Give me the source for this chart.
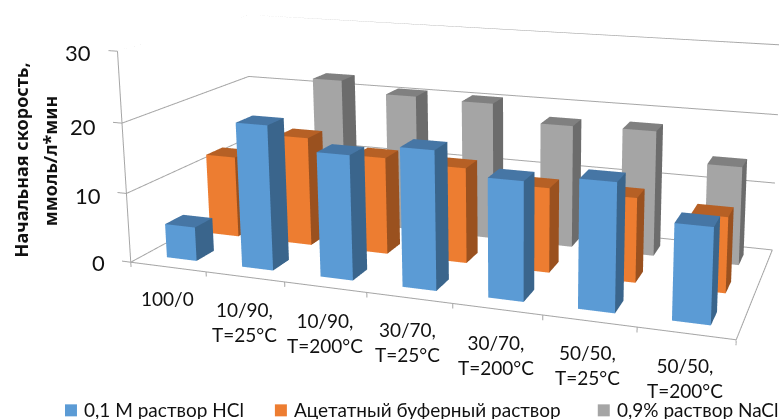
import numpy as np, plotly.graph_objects as go

W, H = 779, 419
categories = ["100/0", "10/90,<br>T=25°C", "10/90,<br>T=200°C", "30/70,<br>T=25°C",
              "30/70,<br>T=200°C", "50/50,<br>T=25°C", "50/50,<br>T=200°C"]
series_names = ["0,1 М раствор HCl", "Ацетатный буферный раствор", "0,9% раствор NaCl"]
hcl = [4.9, 20.5, 17.4, 19.1, 16.1, 17.1, 12.6]
acetate = [12.1, 16.0, 14.1, 13.7, 12.0, 11.8, 10.4]
nacl = [0, 22.2, 20.6, 20.4, 18.0, 18.2, 14.1]
series = [hcl, acetate, nacl]
y_ticks = [0, 10, 20, 30]
shades = [("#5B9BD5", "#3A658C", "#4676A5"), ("#ED7D31", "#9A511F", "#B66025"), ("#A5A5A5", "#6C6C6C", "#808080")]
GRID = "#A6A6A6"
FONT = "Lato, 'Open Sans', sans-serif"
TITLE_FONT = "'Noto Sans', 'Open Sans', sans-serif"

# camera matched to the reference perspective (Excel's view angle is narrow, so the scene is larger than the window)
eye = np.array([0.7343, -1.871, 0.5417]); cen = np.array([0.0937, 0.0676, 0.1359]); up = [-0.062, 0.1848, 0.9808]
ax, ay, az = 1.0, 0.397, 0.355
PPX, PPY, FOCAL = 522.2, 68.6, 1255.6
HS = FOCAL * 2 * np.tan(np.pi / 8); WS = 2 * max(PPX, W - PPX)
LEFT, TOP = PPX - WS / 2, PPY - HS / 2
XR, YR, ZR = [-0.12, 7], [0, 3], [-0.7, 30]
shift = np.array([(3.5 - sum(XR) / 2) / 7 * ax, 0, (15 - sum(ZR) / 2) / 30 * az])
eye = eye + shift; cen = cen + shift
px = lambda x: (x - LEFT) / WS
py = lambda y: 1 - (y - TOP) / HS

fig = go.Figure()

# walls, floor and tick marks
lx, ly, lz = [], [], []
def seg(*p):
    for a in p:
        lx.append(a[0]); ly.append(a[1]); lz.append(a[2])
    lx.append(None); ly.append(None); lz.append(None)
for t in y_ticks:
    seg((XR[0], 0, t), (0, 0, t), (0, 3, t), (7, 3, t))
seg((0, 0, y_ticks[0]), (0, 0, y_ticks[-1]))
seg((0, 0, 0), (7, 0, 0), (7, 3, 0))
for i in range(len(categories) + 1):
    seg((i, 0, 0), (i, 0, ZR[0]))
fig.add_trace(go.Scatter3d(x=lx, y=ly, z=lz, mode="lines", line=dict(color=GRID, width=2), hoverinfo="skip"))

# bars
for j, values in enumerate(series):
    for i, h in enumerate(values):
        if h <= 0:
            continue
        x0, x1, y0, y1 = i + .3, i + .7, j + .3, j + .7
        fig.add_trace(go.Mesh3d(
            x=[x0, x1, x1, x0, x0, x1, x1, x0], y=[y0, y0, y1, y1, y0, y0, y1, y1], z=[0, 0, 0, 0, h, h, h, h],
            i=[0, 0, 1, 1, 4, 4], j=[1, 5, 2, 6, 5, 6], k=[5, 4, 6, 5, 6, 7],
            facecolor=[shades[j][0]] * 2 + [shades[j][1]] * 2 + [shades[j][2]] * 2, flatshading=True,
            lighting=dict(ambient=1, diffuse=0, specular=0, fresnel=0), hoverinfo="skip", name=series_names[j]))

fig.update_layout(
    width=int(round(WS)), height=int(round(HS)), margin=dict(l=0, r=0, t=0, b=0), paper_bgcolor="white", showlegend=False,
    scene=dict(domain=dict(x=[0, 1], y=[0, 1]),
               xaxis=dict(range=XR, visible=False), yaxis=dict(range=YR, visible=False), zaxis=dict(range=ZR, visible=False),
               aspectmode="manual",
               aspectratio=dict(x=ax * (XR[1] - XR[0]) / 7, y=ay, z=az * (ZR[1] - ZR[0]) / 30),
               camera=dict(eye=dict(x=eye[0], y=eye[1], z=eye[2]), center=dict(x=cen[0], y=cen[1], z=cen[2]),
                           up=dict(x=up[0], y=up[1], z=up[2]))))

def label(text, x, y, size, xanchor="center", family=FONT, **kw):
    fig.add_annotation(text=text, xref="paper", yref="paper", x=px(x), y=py(y), showarrow=False,
                       xanchor=xanchor, yanchor="middle",
                       font=dict(size=size, color="#111111", family=family), **kw)

for t, (x, y) in zip(y_ticks, [(99, 262), (88, 195), (83, 126), (78, 52)]):
    label(str(t), x, y, 22)
for c, (x, y) in zip(categories, [(168, 298), (245, 322), (325, 333), (408, 342), (496, 355), (588, 365), (685, 378)]):
    label(c, x, y, 19)
label("<b>Начальная скорость,</b>", 21, 159, 18, family=TITLE_FONT, textangle=-90)
label("<b>ммоль/л*мин</b>", 50, 160, 18, family=TITLE_FONT, textangle=-90)

for name, sx, tx, col in zip(series_names, [65, 275, 598], [82, 292, 615], shades):
    fig.add_shape(type="rect", xref="paper", yref="paper", x0=px(sx), x1=px(sx + 12), y0=py(404), y1=py(416),
                  fillcolor=col[0], line_width=0)
    label(name, tx, 409, 19, xanchor="left")

post = ("document.documentElement.style.overflow='hidden';document.body.style.overflow='hidden';"
        "document.body.style.margin='%dpx 0 0 %dpx';" % (round(TOP), round(LEFT)))
fig.write_html("out.html", post_script=post, config=dict(displayModeBar=False))
